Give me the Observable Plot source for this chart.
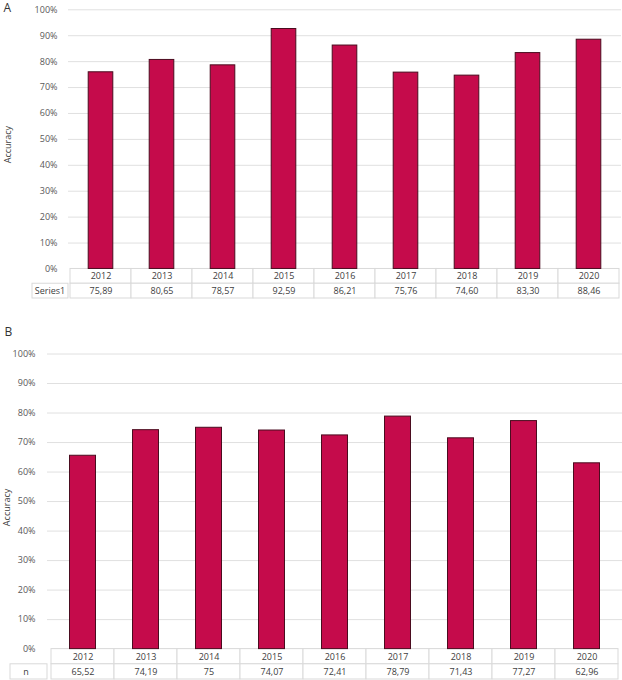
<!DOCTYPE html>
<html>
<head>
<meta charset="utf-8">
<script src="https://cdn.jsdelivr.net/npm/d3@7"></script>
<script src="https://cdn.jsdelivr.net/npm/@observablehq/plot@0.6"></script>
<style>
  html, body { margin: 0; padding: 0; background: #fff; }
  svg { display: block; }
</style>
</head>
<body>
<div id="chart"></div>
<script>
const years = ["2012", "2013", "2014", "2015", "2016", "2017", "2018", "2019", "2020"];
const accuracyA = [75.89, 80.65, 78.57, 92.59, 86.21, 75.76, 74.60, 83.30, 88.46];
const accuracyB = [65.52, 74.19, 75, 74.07, 72.41, 78.79, 71.43, 77.27, 62.96];
const tableLabelsA = ["75,89", "80,65", "78,57", "92,59", "86,21", "75,76", "74,60", "83,30", "88,46"];
const tableLabelsB = ["65,52", "74,19", "75", "74,07", "72,41", "78,79", "71,43", "77,27", "62,96"];
const yTicks = [0, 10, 20, 30, 40, 50, 60, 70, 80, 90, 100];
const gridTicks = [10, 20, 30, 40, 50, 60, 70, 80, 90, 100];

const BAR_FILL = "#c50b4b";
const BAR_STROKE = "#4a0c1f";
const GRID = "#e0e0e0";
const CELL = "#d9d9d9";

function panel(o) {
  const data = years.map((year, i) => ({year, value: o.values[i], label: o.labels[i]}));
  const rowH = o.rowH;
  return Plot.plot({
    width: 622,
    height: o.height,
    marginTop: o.marginTop,
    marginBottom: o.marginBottom,
    marginLeft: o.marginLeft,
    marginRight: o.marginRight,
    style: {fontFamily: "'Open Sans', sans-serif", fontSize: "9px", background: "#fff"},
    x: {domain: years, padding: 0, axis: null},
    y: {domain: [-2 * rowH, 100], axis: null},
    marks: [
      Plot.ruleY(gridTicks, {stroke: GRID, strokeWidth: 1}),
      // data table cells (through the band scale)
      Plot.barY(data, {x: "year", y1: -rowH, y2: 0, fill: "white", stroke: CELL, inset: 0}),
      Plot.barY(data, {x: "year", y1: -2 * rowH, y2: -rowH, fill: "white", stroke: CELL, inset: 0}),
      // row label cell
      (index, scales, values, dims) => {
        const y = scales.y;
        const g = d3.create("svg:g");
        g.append("rect")
          .attr("x", o.labelX0).attr("y", y(-rowH))
          .attr("width", dims.marginLeft - o.labelX0)
          .attr("height", y(-2 * rowH) - y(-rowH))
          .attr("fill", "white").attr("stroke", CELL);
        g.append("text")
          .attr("x", o.labelTextX).attr("y", y(-1.5 * rowH))
          .attr("text-anchor", "middle").attr("dy", "0.35em")
          .attr("fill", "#404040").attr("font-size", 9)
          .text(o.rowLabel);
        return g.node();
      },
      // bars
      Plot.barY(data, {x: "year", y: "value", fill: BAR_FILL, stroke: BAR_STROKE, strokeWidth: 1,
        insetLeft: o.inset, insetRight: o.inset}),
      // table text
      Plot.text(data, {x: "year", y: -rowH / 2, text: "year", fill: "#404040"}),
      Plot.text(data, {x: "year", y: -1.5 * rowH, text: "label", fill: "#404040"}),
      // y axis
      Plot.axisY(yTicks, {label: null, tickSize: 0, tickPadding: o.tickPadding, tickFormat: d => d + "%", fill: "#595959"}),
      Plot.text(["Accuracy"], {y: [48], frameAnchor: "left", dx: o.yLabelDx, rotate: -90,
        fill: "#404040", textAnchor: "middle"}),
      Plot.text([o.letter], {frameAnchor: "top-left", dx: o.letterDx, dy: o.letterDy,
        textAnchor: "start", lineAnchor: "middle", fontSize: 12, fill: "#333"})
    ]
  });
}

const chartA = panel({
  letter: "A", values: accuracyA, labels: tableLabelsA, rowLabel: "Series1",
  height: 310, marginTop: 9.3, marginBottom: 12, marginLeft: 68, marginRight: 1,
  rowH: 5.7, inset: 18.2, tickPadding: 11, labelX0: 32, labelTextX: 50,
  yLabelDx: -60, letterDx: -65, letterDy: -1.5
});
const chartB = panel({
  letter: "B", values: accuracyB, labels: tableLabelsB, rowLabel: "n",
  height: 370, marginTop: 43.5, marginBottom: 1, marginLeft: 47, marginRight: 0,
  rowH: 5.15, inset: 18.5, tickPadding: 12, labelX0: 10, labelTextX: 26,
  yLabelDx: -40, letterDx: -43, letterDy: -22
});
const root = document.getElementById("chart");
root.appendChild(chartA);
root.appendChild(chartB);
</script>
</body>
</html>
